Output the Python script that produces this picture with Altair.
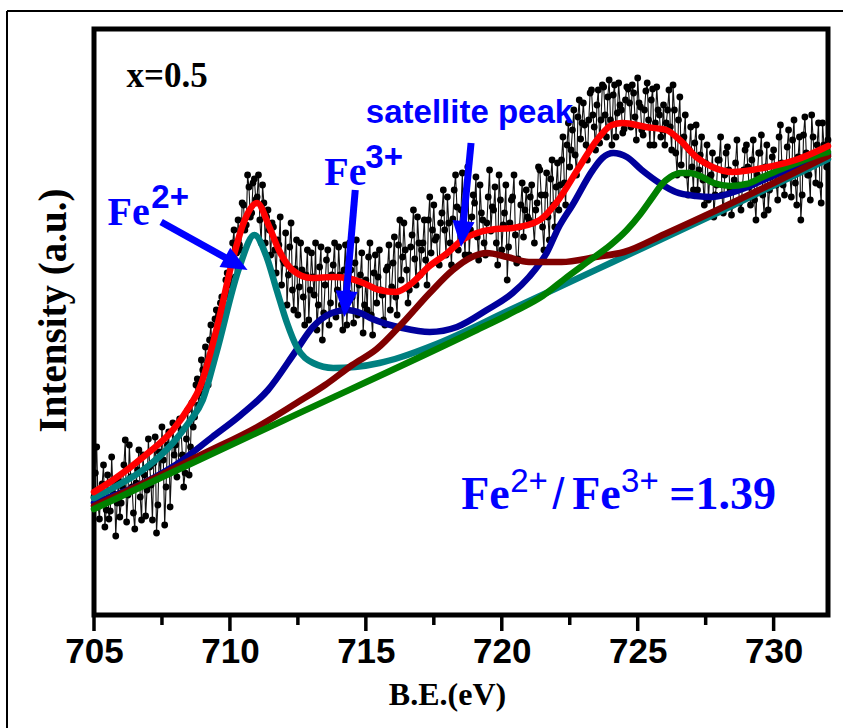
import altair as alt
import pandas as pd

# ---------------- data ----------------
# raw XPS counts (a.u.), one value every 0.05 eV from 705.00 to 732.00 eV
counts = [
    118, 142, 168, 110, 96, 125, 131, 150, 88, 105, 140, 96, 104, 158, 122, 135, 79, 112, 135, 98,      # 705
    112, 128, 150, 175, 93, 120, 170, 138, 128, 102, 86, 132, 145, 165, 118, 95, 160, 140, 99, 125,     # 706
    176, 148, 130, 95, 152, 178, 82, 110, 163, 140, 188, 155, 90, 128, 170, 183, 108, 146, 192, 160,    # 707
    170, 138, 150, 196, 185, 160, 128, 142, 176, 205, 140, 168, 212, 188, 198, 230, 236, 210, 222, 255, # 708
    245, 228, 268, 250, 230, 275, 290, 258, 262, 296, 305, 282, 280, 312, 318, 296, 300, 335, 342, 318, # 709
    350, 330, 372, 385, 338, 362, 395, 370, 365, 412, 410, 385, 390, 440, 428, 398, 402, 432, 436, 415, # 710
    418, 440, 395, 372, 430, 412, 372, 398, 405, 385, 360, 392, 388, 365, 342, 375, 370, 398, 330, 355, # 711
    352, 382, 310, 340, 368, 392, 325, 305, 346, 375, 300, 328, 372, 345, 318, 290, 340, 365, 295, 325, # 712
    362, 338, 320, 372, 285, 310, 348, 368, 275, 302, 330, 355, 365, 290, 312, 340, 350, 372, 298, 325, # 713
    368, 340, 310, 285, 345, 370, 290, 322, 372, 345, 318, 292, 352, 375, 300, 330, 340, 362, 282, 310, # 714
    335, 305, 358, 372, 300, 280, 342, 360, 312, 338, 365, 325, 320, 295, 290, 345, 348, 370, 305, 328, # 715
    352, 378, 318, 300, 370, 395, 335, 358, 392, 365, 345, 312, 325, 368, 380, 405, 356, 330, 398, 372, # 716
    340, 365, 372, 395, 355, 330, 395, 418, 362, 385, 410, 375, 378, 352, 350, 392, 402, 425, 385, 360, # 717
    418, 392, 372, 350, 396, 425, 440, 408, 365, 390, 405, 442, 382, 360, 425, 448, 360, 385, 398, 420, # 718
    412, 438, 378, 355, 430, 402, 395, 372, 360, 392, 418, 445, 384, 408, 405, 428, 372, 350, 440, 415, # 719
    365, 390, 402, 430, 335, 368, 392, 415, 418, 440, 380, 352, 356, 388, 410, 432, 378, 405, 425, 398, # 720
    395, 418, 430, 392, 372, 405, 412, 448, 445, 420, 388, 365, 420, 442, 398, 375, 436, 455, 410, 388, # 721
    428, 452, 405, 430, 455, 478, 432, 410, 470, 492, 448, 465, 485, 505, 460, 440, 498, 515, 476, 492, # 722
    512, 490, 470, 455, 495, 522, 525, 500, 488, 465, 510, 525, 472, 495, 530, 528, 500, 478, 518, 535, # 723
    495, 470, 520, 530, 478, 502, 532, 510, 505, 482, 486, 515, 528, 526, 512, 488, 530, 522, 498, 475, # 724
    537, 512, 508, 485, 480, 505, 524, 532, 495, 470, 515, 526, 470, 492, 528, 505, 500, 478, 485, 510, # 725
    470, 492, 505, 525, 488, 465, 530, 505, 462, 440, 495, 518, 450, 475, 478, 500, 440, 420, 465, 488, # 726
    448, 425, 472, 490, 425, 445, 460, 478, 435, 410, 452, 470, 415, 438, 440, 462, 398, 420, 430, 455, # 727
    455, 478, 420, 402, 440, 462, 468, 445, 425, 400, 410, 435, 452, 475, 430, 412, 405, 428, 445, 465, # 728
    470, 448, 428, 410, 455, 475, 415, 395, 440, 462, 462, 480, 420, 400, 448, 470, 405, 425, 438, 458, # 729
    465, 442, 430, 415, 478, 490, 452, 430, 420, 445, 468, 485, 440, 418, 475, 495, 432, 410, 458, 478, # 730
    395, 420, 480, 498, 462, 440, 440, 415, 500, 478, 455, 432, 470, 492, 430, 412, 492, 470, 465, 448, # 731
    475,                                                                                                # 732
]
be = [round(705 + 0.05 * i, 2) for i in range(len(counts))]

# fitted envelope (red)
red_x = [705.0, 705.7, 706.9, 707.9, 708.5, 708.9, 709.5, 710.1, 710.5, 711.0, 711.45,
         711.8, 712.3, 713.0, 713.8, 714.3, 714.9, 715.5, 716.1, 716.7, 717.3, 718.0,
         718.55, 719.2, 719.8, 720.4, 721.4, 722.0, 722.85, 723.5, 724.05, 724.45,
         725.3, 726.05, 726.55, 727.15, 727.75, 728.5, 729.6, 730.8, 731.85, 732.0]
red_y = [123, 135, 160, 185, 208, 228, 285, 355, 392, 412, 388,
         365, 345, 337, 338, 337, 332, 325, 323, 332, 348, 362,
         375, 383, 386, 387, 395, 412, 448, 475, 490, 492,
         488, 485, 475, 458, 448, 443, 447, 455, 467, 469]

# Fe2+ component (teal)
teal_x = [705.0, 705.7, 706.9, 707.9, 708.5, 709.0, 709.5, 710.35, 710.9, 711.35, 711.72,
          712.1, 712.46, 713.06, 713.8, 714.6, 715.5, 716.3, 717.6, 720.3, 724.0, 728.0,
          731.85, 732.0]
teal_y = [117, 127, 147, 172, 193, 215, 262, 348, 380, 358, 325,
          292, 268, 252, 247, 248, 252, 258, 271, 305, 352, 403,
          454, 456]

# Fe3+ component (blue)
blue_x = [705.0, 706.9, 708.0, 709.35, 710.4, 711.4, 712.45, 713.05, 713.75, 714.3, 714.8,
          715.25, 716.35, 717.35, 718.35, 719.45, 720.4, 721.0, 721.65, 722.1, 722.6,
          723.35, 723.7, 724.1, 724.6, 725.15, 725.8, 726.4, 727.15, 727.75, 728.75,
          729.8, 730.8, 731.85, 732.0]
blue_y = [112, 133, 150, 178, 200, 225, 265, 288, 302, 305, 302,
          296, 287, 283, 288, 305, 322, 338, 362, 388, 410,
          445, 457, 462, 458, 445, 432, 423, 419, 418, 425,
          437, 448, 460, 461]

# satellite component (dark red)
dred_x = [705.0, 707.0, 709.0, 711.0, 712.45, 713.5, 714.5, 715.4, 716.35, 717.35, 718.2,
          718.9, 719.45, 720.2, 721.0, 722.2, 723.45, 724.5, 726.0, 728.0, 730.0, 732.0]
dred_y = [109, 134, 161, 188, 212, 230, 250, 266, 292, 322, 345,
          358, 362, 358, 353, 353, 358, 363, 381, 406, 432, 459]

# Fe2+ 2p1/2 component (green)
green_x = [705.0, 712.0, 719.0, 720.5, 721.5, 722.4, 723.2, 724.0, 724.6, 725.1, 725.55,
           725.9, 726.2, 726.6, 726.9, 727.3, 727.8, 728.4, 729.0, 729.6, 730.2,
           730.85, 731.85, 732.0]
green_y = [106, 195, 284, 304, 319, 338, 354, 370, 385, 401, 418,
           431, 438, 442, 442, 439, 432, 429, 431, 438, 445,
           452, 462, 463]

# annotations
serif_txt = ["Fe", "Fe", "Fe", "Fe", "=1.39"]
serif_x = [705.5, 713.47, 718.51, 722.59, 726.16]
serif_y = [390, 430, 106, 106, 106]
serif_size = [40, 40, 46, 46, 46]

lab_sup_txt = ["2+", "3+"]
lab_sup_x = [707.11, 714.98]
lab_sup_y = [407, 447]

ratio_sup_txt = ["2+", "3+", "/"]
ratio_sup_x = [720.31, 724.39, 721.86]
ratio_sup_y = [123, 123, 106]
ratio_sup_size = [33, 33, 44]

# arrows: tail and tip positions, head angle (deg)
arr_tail_x = [707.47, 714.61, 718.87]
arr_tail_y = [393, 425, 472]
arr_tip_x = [710.65, 714.21, 718.50]
arr_tip_y = [345, 298, 368]
arr_angle = [119, 185, 185.5]

major_ticks = [705, 710, 715, 720, 725, 730]
minor_ticks = [707.5, 712.5, 717.5, 722.5, 727.5]

# ---------------- chart ----------------
W, H = 734, 586
BLUE = "#0000FF"

x_scale = alt.Scale(domain=[705, 732], nice=False, zero=False)
y_scale = alt.Scale(domain=[0, 586], nice=False, zero=False)

x_axis = alt.Axis(
    values=major_ticks, format="d",
    title="B.E.(eV)", grid=False, domain=False, ticks=False,
    labelFont="Liberation Sans", labelFontSize=35, labelFontWeight="bold",
    labelColor="black", labelPadding=19, labelFlush=False, labelOverlap=False,
    titleFont="Liberation Serif", titleFontSize=32, titleFontWeight="bold",
    titleColor="black", titleBaseline="alphabetic", titleAlign="center",
    titleX=353, titleY=89, minExtent=0,
)
y_axis = alt.Axis(
    title="Intensity (a.u.)", labels=False, ticks=False, domain=False, grid=False,
    titleFont="Liberation Serif", titleFontSize=39, titleFontWeight="bold",
    titleColor="black", titleAngle=270, titleBaseline="alphabetic",
    titleAlign="center", titleX=-29, titleY=281, minExtent=0,
)


def X(f="be"):
    return alt.X(f"{f}:Q", scale=x_scale, axis=x_axis)


def Y(f="cps"):
    return alt.Y(f"{f}:Q", scale=y_scale, axis=y_axis)


raw = pd.DataFrame({"be": be, "cps": counts})
data_line = alt.Chart(raw).mark_line(color="#111111", strokeWidth=1.1).encode(x=X(), y=Y())
data_pts = alt.Chart(raw).mark_circle(color="black", size=46, opacity=1).encode(x=X(), y=Y())


def curve(xs, ys, color):
    df = pd.DataFrame({"be": xs, "cps": ys})
    return alt.Chart(df).mark_line(
        color=color, strokeWidth=6.5, interpolate="monotone", strokeCap="round"
    ).encode(x=X(), y=Y())


c_blue = curve(blue_x, blue_y, "#00009C")
c_teal = curve(teal_x, teal_y, "#008080")
c_dred = curve(dred_x, dred_y, "#800000")
c_green = curve(green_x, green_y, "#008000")
c_red = curve(red_x, red_y, "#FF0000")

# outward ticks on the x axis (major long, minor short)
maj_df = pd.DataFrame({"be": major_ticks})
min_df = pd.DataFrame({"be": minor_ticks})
maj_ticks = alt.Chart(maj_df).mark_rule(color="black", strokeWidth=3.5).encode(
    x=X(), y=alt.value(H), y2=alt.value(H + 16))
min_ticks = alt.Chart(min_df).mark_rule(color="black", strokeWidth=3.5).encode(
    x=X(), y=alt.value(H), y2=alt.value(H + 10))

# arrows
arr = pd.DataFrame({"tx": arr_tail_x, "ty": arr_tail_y,
                    "hx": arr_tip_x, "hy": arr_tip_y, "ang": arr_angle})
kx = W / 27.0  # px per eV
dx = (arr["tx"] - arr["hx"]) * kx
dy = (arr["ty"] - arr["hy"])
L = (dx ** 2 + dy ** 2) ** 0.5
arr["sx"] = arr["hx"] + (arr["tx"] - arr["hx"]) * 13 / L
arr["sy"] = arr["hy"] + (arr["ty"] - arr["hy"]) * 13 / L

shafts = alt.Chart(arr).mark_rule(color=BLUE, strokeWidth=7).encode(
    x=X("tx"), y=Y("ty"), x2="sx:Q", y2="sy:Q")
heads = alt.Chart(arr).mark_point(
    shape="M0,0L-0.85,2L0.85,2Z", filled=True, size=676, color=BLUE, opacity=1, strokeWidth=0
).encode(x=X("hx"), y=Y("hy"), angle=alt.Angle("ang:Q", scale=None))

# texts
serif_df = pd.DataFrame({"be": serif_x, "cps": serif_y, "t": serif_txt, "s": serif_size})
t_serif = alt.Chart(serif_df).mark_text(
    font="Liberation Serif", fontWeight="bold", color=BLUE, align="left", baseline="alphabetic"
).encode(x=X(), y=Y(), text="t:N", size=alt.Size("s:Q", scale=None, legend=None))

lab_sup_df = pd.DataFrame({"be": lab_sup_x, "cps": lab_sup_y, "t": lab_sup_txt})
t_lab_sup = alt.Chart(lab_sup_df).mark_text(
    font="Liberation Sans", fontWeight="bold", fontSize=33, color=BLUE,
    align="left", baseline="alphabetic"
).encode(x=X(), y=Y(), text="t:N")

ratio_sup_df = pd.DataFrame({"be": ratio_sup_x, "cps": ratio_sup_y, "t": ratio_sup_txt,
                             "s": ratio_sup_size})
t_ratio_sup = alt.Chart(ratio_sup_df).mark_text(
    font="Liberation Sans", fontWeight="normal", color=BLUE, align="left", baseline="alphabetic"
).encode(x=X(), y=Y(), text="t:N", size=alt.Size("s:Q", scale=None, legend=None))

sat_df = pd.DataFrame({"be": [715.0], "cps": [492], "t": ["satellite peak"]})
t_sat = alt.Chart(sat_df).mark_text(
    font="Liberation Sans", fontWeight="bold", fontSize=33, color=BLUE,
    align="left", baseline="alphabetic"
).encode(x=X(), y=Y(), text="t:N")

x_df = pd.DataFrame({"be": [706.2], "cps": [528], "t": ["x=0.5"]})
t_x = alt.Chart(x_df).mark_text(
    font="Liberation Serif", fontWeight="bold", fontSize=35, color="black",
    align="left", baseline="alphabetic"
).encode(x=X(), y=Y(), text="t:N")

# outer thin border of the figure (decoration)
one = alt.Data(values=[{"k": 1}])
border_top = alt.Chart(one).mark_rule(color="black", strokeWidth=2).encode(
    x=alt.value(-87), x2=alt.value(760), y=alt.value(-18))
border_left = alt.Chart(one).mark_rule(color="black", strokeWidth=2).encode(
    x=alt.value(-87), y=alt.value(-18), y2=alt.value(720))

chart = alt.layer(
    data_line, data_pts, c_blue, c_teal, c_dred, c_green, c_red,
    maj_ticks, min_ticks,
    shafts, heads, t_serif, t_lab_sup, t_ratio_sup, t_sat, t_x, border_top, border_left,
).properties(
    width=W, height=H,
    background="white",
    padding={"left": 94, "top": 29, "right": 15, "bottom": 113},
    autosize=alt.AutoSizeParams(type="none"),
).configure_view(
    stroke="black", strokeWidth=5
)

chart.save("out.html", embed_options={"renderer": "svg", "actions": False})
